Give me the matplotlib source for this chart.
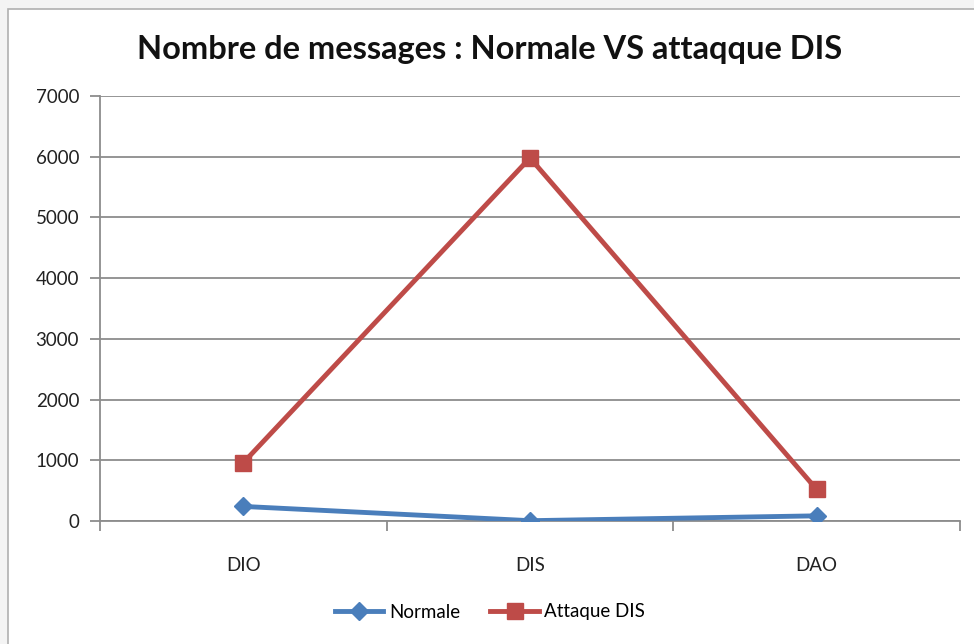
import numpy as np
import matplotlib.pyplot as plt
from matplotlib.patches import Rectangle

# Data
categories = ['DIO', 'DIS', 'DAO']
normale = [240, 5, 85]
attaque_dis = [960, 5980, 520]
y_ticks = [0, 1000, 2000, 3000, 4000, 5000, 6000, 7000]

BLUE = '#4A7EBB'
RED = '#BE4B48'
GRID = '#8c8c8c'
plt.rcParams['font.family'] = ['Lato', 'DejaVu Sans']

fig = plt.figure(figsize=(9.74, 6.44), dpi=100)
fig.patch.set_facecolor('#f4f4f4')

# chart area (white box with border, like the spreadsheet embed)
fig.patches.append(Rectangle((8 / 974, -0.01), 1, 1.01 - 9 / 644, transform=fig.transFigure,
                             facecolor='white', edgecolor='#b0b0b0', linewidth=1.2, zorder=-5))

ax = fig.add_axes([100 / 974, 1 - 521 / 644, 860 / 974, 425 / 644])
ax.set_facecolor('none')

x = np.arange(len(categories))
ax.plot(x, normale, color=BLUE, linewidth=3.5, marker='D', markersize=9,
        label='Normale', zorder=3)
ax.plot(x, attaque_dis, color=RED, linewidth=3.5, marker='s', markersize=11,
        label='Attaque DIS', zorder=3)

ax.set_xlim(-0.5, len(categories) - 0.5)
ax.set_ylim(0, 7000)
ax.set_yticks(y_ticks)
ax.set_yticklabels([str(v) for v in y_ticks], fontsize=13.5, color='#222222')
ax.set_xticks(x)
ax.set_xticklabels(categories, fontsize=13.5, color='#222222')
ax.set_xticks(np.arange(-0.5, len(categories)), minor=True)
ax.tick_params(axis='x', which='major', length=0, pad=26)
ax.tick_params(axis='x', which='minor', length=7, width=1.3, color=GRID, direction='out')
ax.tick_params(axis='y', length=7, width=1.3, color=GRID, direction='out', pad=8)

ax.yaxis.grid(True, color=GRID, linewidth=1.3)
ax.set_axisbelow(True)
for side in ['top', 'right']:
    ax.spines[side].set_visible(False)
for side in ['left', 'bottom']:
    ax.spines[side].set_color(GRID)
    ax.spines[side].set_linewidth(1.3)

fig.text(490 / 974, 1 - 50 / 644, 'Nombre de messages : Normale VS attaqque DIS',
         ha='center', va='center', fontsize=23.5, fontweight='bold', color='#111111')

fig.legend(loc='center', bbox_to_anchor=(490 / 974, 1 - 612 / 644), ncol=2,
           frameon=False, fontsize=13.5, handlelength=2.6, columnspacing=1.6,
           handletextpad=0.3)

fig.savefig('out.png', dpi=100)
